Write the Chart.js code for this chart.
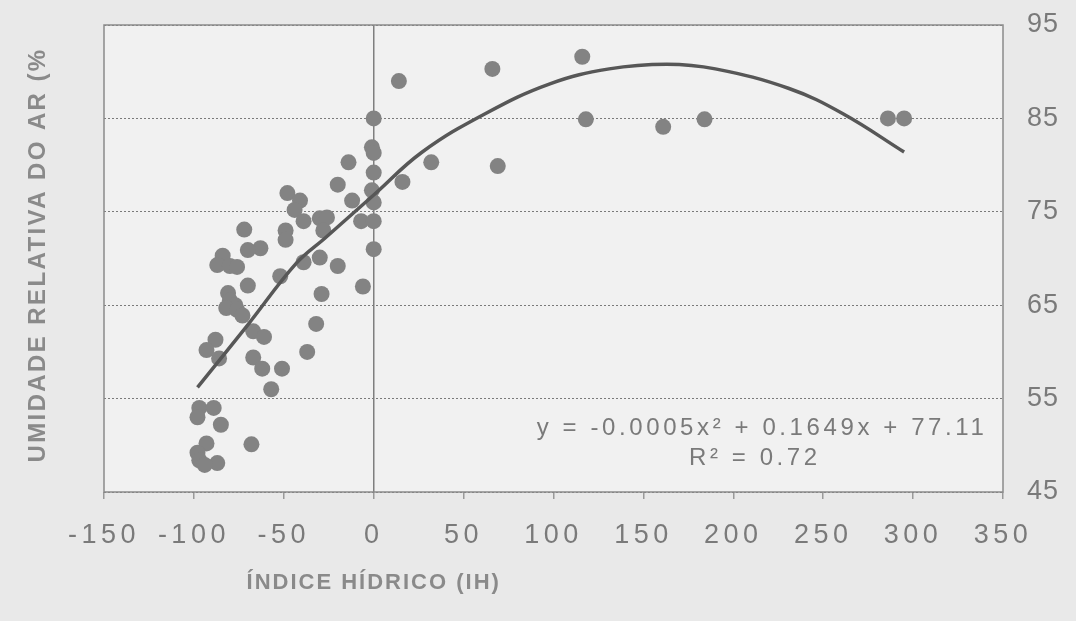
<!DOCTYPE html>
<html>
<head>
<meta charset="utf-8">
<script src="https://cdn.jsdelivr.net/npm/chart.js@4/dist/chart.umd.min.js"></script>
<style>
  body { margin: 0; background: #e9e9e9; }
</style>
</head>
<body>
<canvas id="myChart" width="1076" height="621"></canvas>
<script>
// data
const ihValues = [14, 0, -1, 0, -14, 0, 32, 16, -20, -48, -41, -12, -1, 0, -44, -39, -30, -26, -28, -7,
    0, -49, -49, -72, 0, -63, -70, -84, -87, -80, -76, -30, -39, -20, -52, -70, -6, -29, -81, -80,
    -77, -82, -76, -73, -32, -67, -61, -88, -93, -86, -37, -67, -62, -51, -57, -97, -89, -98, -85, -93,
    -68, -98, -97, -87, -94, 66, 116, 118, 161, 184, 69, 286, 295];
const urValues = [89.0, 85.0, 81.9, 81.3, 80.3, 79.2, 80.3, 78.2, 77.9, 77.0, 76.2, 76.2, 77.3, 76.0, 75.2, 74.0, 74.3, 74.4, 73.0, 74.0,
    74.0, 73.0, 72.0, 73.1, 71.0, 71.1, 70.9, 70.3, 69.3, 69.2, 69.1, 70.1, 69.6, 69.2, 68.1, 67.1, 67.0, 66.2, 66.3, 65.5,
    65.0, 64.7, 64.5, 63.9, 63.0, 62.2, 61.6, 61.3, 60.2, 59.3, 60.0, 59.4, 58.2, 58.2, 56.0, 54.0, 54.0, 53.0, 52.2, 50.2,
    50.1, 49.2, 48.4, 48.1, 47.9, 90.3, 91.6, 84.9, 84.1, 84.9, 79.9, 85.0, 85.0];

// polynomial trend line
const trendX = [-98, -70, -43, -27, 0, 27, 62, 98, 131, 163, 190, 231, 261, 295];
const trendY = [56.2, 62.9, 69.5, 72.2, 76.8, 81.4, 85.5, 88.7, 90.3, 90.8, 90.3, 88.2, 85.5, 81.4];

const xTickValues = [-150, -100, -50, 0, 50, 100, 150, 200, 250, 300, 350];
const xTickLabels = ['-150', '-100', '-50', '0', '50', '100', '150', '200', '250', '300', '350'];
const yTickValues = [45, 55, 65, 75, 85, 95];
const yTickLabels = ['45', '55', '65', '75', '85', '95'];

const equationText = 'y = -0.0005x² + 0.1649x + 77.11';
const r2Text = 'R² = 0.72';
const xTitle = 'ÍNDICE HÍDRICO (IH)';
const yTitle = 'UMIDADE RELATIVA DO AR (%';

const FONT = '"Liberation Sans", Arial, sans-serif';

// wrap a scale's label drawing so it gets its own letter spacing
function spacedLabels(spacing) {
    return (s) => {
        if (s._spaced) return;
        const orig = s.drawLabels.bind(s);
        s.drawLabels = (area) => {
            s.ctx.letterSpacing = spacing;
            orig(area);
            s.ctx.letterSpacing = '0px';
        };
        s._spaced = true;
    };
}

// page + plot background and frame
const backgroundPlugin = {
    id: 'background',
    beforeDraw(chart) {
        const { ctx, chartArea: a } = chart;
        ctx.save();
        ctx.fillStyle = '#e9e9e9';
        ctx.fillRect(0, 0, chart.width, chart.height);
        ctx.fillStyle = '#f1f1f1';
        ctx.fillRect(a.left, a.top, a.right - a.left, a.bottom - a.top);
        ctx.restore();
    },
    beforeDatasetsDraw(chart) {
        const { ctx, chartArea: a } = chart;
        ctx.save();
        ctx.strokeStyle = '#8a8a8a';
        ctx.lineWidth = 1.5;
        ctx.strokeRect(a.left, a.top, a.right - a.left, a.bottom - a.top);
        ctx.restore();
    }
};

// axis titles and regression text
const textPlugin = {
    id: 'texts',
    afterDraw(chart) {
        const { ctx, scales } = chart;
        ctx.save();
        ctx.textAlign = 'center';
        ctx.textBaseline = 'middle';

        ctx.fillStyle = '#7a7a7a';
        ctx.font = '24px ' + FONT;
        ctx.letterSpacing = '3.6px';
        ctx.fillText(equationText, scales.x.getPixelForValue(216), scales.y.getPixelForValue(51.8));
        ctx.fillText(r2Text, scales.x.getPixelForValue(212), scales.y.getPixelForValue(48.6));

        ctx.fillStyle = '#8a8a8a';
        ctx.font = 'bold 22px ' + FONT;
        ctx.letterSpacing = '2px';
        ctx.fillText(xTitle, scales.x.getPixelForValue(0), 583);

        ctx.font = 'bold 24px ' + FONT;
        ctx.letterSpacing = '2.4px';
        ctx.translate(38, 255);
        ctx.rotate(-Math.PI / 2);
        ctx.fillText(yTitle, 0, 0);
        ctx.restore();
    }
};

const points = ihValues.map((x, i) => ({ x: x, y: urValues[i] }));
const trend = trendX.map((x, i) => ({ x: x, y: trendY[i] }));

const config = {
    type: 'scatter',
    data: {
        datasets: [
            {
                label: 'Polinomial',
                data: trend,
                showLine: true,
                tension: 0.4,
                borderColor: '#575757',
                borderWidth: 3.5,
                pointRadius: 0
            },
            {
                label: 'UR x IH',
                data: points,
                backgroundColor: '#838383',
                borderWidth: 0,
                pointRadius: 8
            }
        ]
    },
    options: {
        responsive: false,
        animation: false,
        layout: { padding: { left: 104, top: 25, right: 0, bottom: 0 } },
        plugins: {
            legend: { display: false },
            tooltip: { enabled: false }
        },
        scales: {
            x: {
                type: 'linear',
                min: -150,
                max: 350,
                afterBuildTicks: (s) => { s.ticks = xTickValues.map(v => ({ value: v })); },
                afterFit: (s) => { s.height = 129; },
                afterUpdate: spacedLabels('4.5px'),
                ticks: {
                    padding: 20,
                    color: '#7a7a7a',
                    font: { family: FONT, size: 27 },
                    callback: (v) => xTickLabels[xTickValues.indexOf(v)] ?? ''
                },
                grid: {
                    color: (c) => c.tick && c.tick.value === 0 ? '#7f7f7f' : 'rgba(0,0,0,0)',
                    lineWidth: 1.5,
                    tickColor: '#9a9a9a',
                    tickLength: 7
                },
                border: { display: false }
            },
            y: {
                type: 'linear',
                position: 'right',
                min: 45,
                max: 95,
                afterBuildTicks: (s) => { s.ticks = yTickValues.map(v => ({ value: v })); },
                afterFit: (s) => { s.width = 73; s.paddingTop = 0; s.paddingBottom = 0; },
                afterUpdate: spacedLabels('1px'),
                ticks: {
                    padding: 24,
                    color: '#7a7a7a',
                    font: { family: FONT, size: 27 },
                    callback: (v) => yTickLabels[yTickValues.indexOf(v)] ?? ''
                },
                grid: {
                    color: '#7a7a7a',
                    lineWidth: 1,
                    drawTicks: false
                },
                border: { display: false, dash: [2, 2] }
            }
        }
    },
    plugins: [backgroundPlugin, textPlugin]
};

const myChart = new Chart(document.getElementById('myChart'), config);
</script>
</body>
</html>
